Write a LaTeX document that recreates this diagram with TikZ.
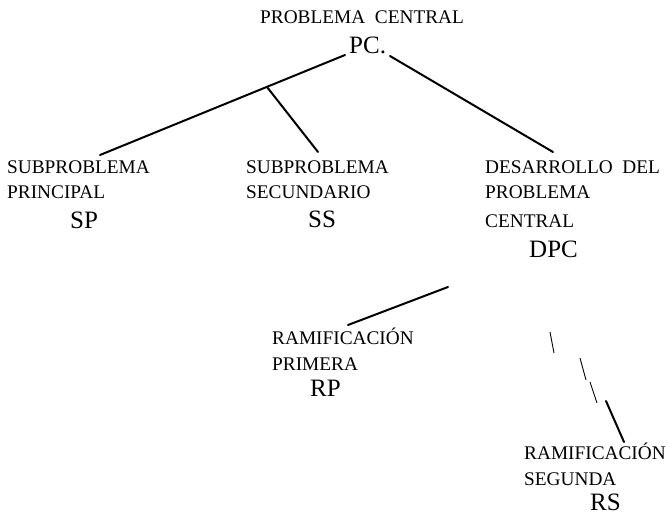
\documentclass[tikz,border=0pt]{standalone}
\usepackage{fontspec}
\setmainfont{Liberation Serif}
\begin{document}
\begin{tikzpicture}[x=1pt,y=-1pt,
  sm/.style={font=\fontsize{19.3}{21}\selectfont, inner sep=0pt, anchor=base west},
  big/.style={font=\fontsize{25}{27}\selectfont, inner sep=0pt, anchor=base west},
  link/.style={line width=2pt, line cap=round},
  thin/.style={line width=0.9pt}]
\useasboundingbox (0,0) rectangle (667,516);
% texts
\node[sm] (pct) at (260,24) {PROBLEMA\ \ CENTRAL};
\node[big] (pc) at (349,54) {PC.};
\node[sm] (sp1) at (7,174) {SUBPROBLEMA};
\node[sm] (sp2) at (7,198) {PRINCIPAL};
\node[big] (sp) at (70,228) {SP};
\node[sm] (ss1) at (246,174) {SUBPROBLEMA};
\node[sm] (ss2) at (246,198) {SECUNDARIO};
\node[big] (ss) at (308,227) {SS};
\node[sm] (dpc1) at (485,174) {DESARROLLO\ \ DEL};
\node[sm] (dpc2) at (485,198) {PROBLEMA};
\node[sm] (dpc3) at (485,227) {CENTRAL};
\node[big] (dpc) at (529,257) {DPC};
\node[sm] (rp1) at (272,344) {RAMIFICACIÓN};
\node[sm] (rp2) at (272,370) {PRIMERA};
\node[big] (rp) at (310,396) {RP};
\node[sm] (rs1) at (524,459) {RAMIFICACIÓN};
\node[sm] (rs2) at (524,485) {SEGUNDA};
\node[big] (rs) at (590,510) {RS};
% connector ends
\coordinate (pcL) at (345,55);
\coordinate (pcR) at (390,56);
\coordinate (spT) at (100,155);
\coordinate (jn) at (267,87);
\coordinate (ssT) at (318,152);
\coordinate (dpcT) at (553,152);
\coordinate (rpA) at (448,287);
\coordinate (rpT) at (348,325);
\coordinate (d1a) at (550,332); \coordinate (d1b) at (554,353);
\coordinate (d2a) at (580,358); \coordinate (d2b) at (586,380);
\coordinate (d3a) at (590,382); \coordinate (d3b) at (597,403);
\coordinate (d4a) at (606,401); \coordinate (rsT) at (624,442);
% connectors
\draw[link] (pcL) -- (spT);
\draw[link] (jn) -- (ssT);
\draw[link] (pcR) -- (dpcT);
\draw[link] (rpA) -- (rpT);
\draw[thin] (d1a) -- (d1b);
\draw[thin] (d2a) -- (d2b);
\draw[thin] (d3a) -- (d3b);
\draw[link] (d4a) -- (rsT);
\end{tikzpicture}
\end{document}
